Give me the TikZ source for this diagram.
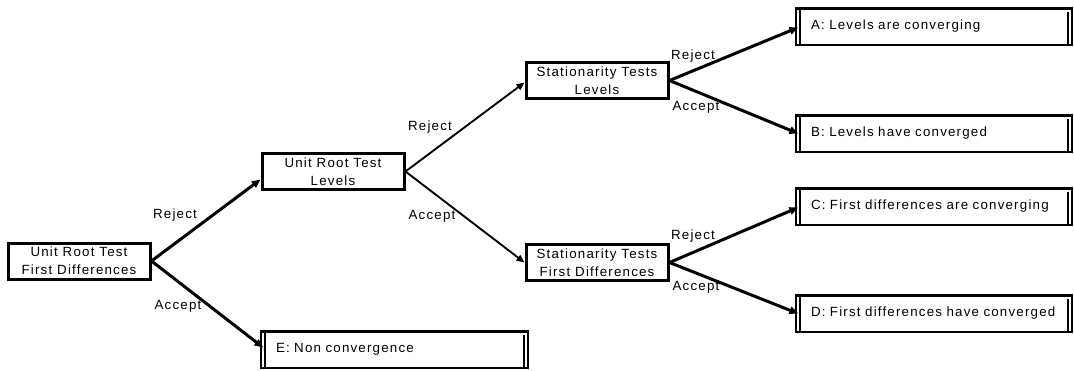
\documentclass[tikz,border=0pt]{standalone}
\usepackage{fontspec}
\setmainfont{Liberation Sans}[LetterSpace=9]
\usetikzlibrary{arrows.meta,calc}
\begin{document}
\begin{tikzpicture}[x=0.75pt,y=-0.75pt,
  every node/.style={font=\fontsize{10}{13.3}\selectfont},
  test/.style={draw,line width=2.25pt,minimum width=106.5pt,minimum height=27pt,align=center,inner sep=0pt},
  result/.style={draw,line width=1.3pt,minimum height=27.75pt,inner xsep=4pt,inner ysep=0pt,align=left,
    execute at begin node={\hspace*{7.25pt}},
    path picture={
      \draw[line width=1.6pt] ([xshift=3pt]path picture bounding box.north west) -- ([xshift=3pt]path picture bounding box.south west);
      \draw[line width=1.6pt] ([xshift=-3pt,yshift=-3pt]path picture bounding box.north east) -- ([xshift=-3pt]path picture bounding box.south east);
      \draw[line width=2.6pt] (path picture bounding box.north west) -- (path picture bounding box.north east);
    }},
  lab/.style={inner sep=0pt},
  thickarrow/.style={line width=2.25pt,-{Triangle[length=6.5pt,width=5.5pt]}},
  thinarrow/.style={line width=1.4pt,-{Triangle[length=6pt,width=5pt]}}]
\useasboundingbox (0,0) rectangle (1074,371);

\node[test] (U1) at (79,261) {Unit Root Test\\First Differences};
\node[test] (U2) at (333,171.5) {Unit Root Test\\Levels};
\node[test] (S1) at (597,80.5) {Stationarity Tests\\Levels};
\node[test] (S2) at (597,262.5) {Stationarity Tests\\First Differences};

\node[result,text width=199pt] (A) at (934,26.5) {A: Levels are converging};
\node[result,text width=199pt] (B) at (934,133.5) {B: Levels have converged};
\node[result,text width=199pt] (C) at (934,206.5) {C: First differences are converging};
\node[result,text width=199pt] (D) at (934,313.5) {D: First differences have converged};
\node[result,text width=192.25pt] (E) at (394.5,349.5) {E: Non convergence};

\draw[thickarrow] (U1.east) -- ($(U2.west)+(0,8)$);
\draw[thickarrow] (U1.east) -- ($(E.west)+(3,-2)$);
\draw[thinarrow] (U2.east) -- ($(S1.west)+(0,2)$);
\draw[thinarrow] (U2.east) -- (S2.west);
\draw[thickarrow] (S1.east) -- ($(A.west)+(3,1)$);
\draw[thickarrow] (S1.east) -- ($(B.west)+(3,0)$);
\draw[thickarrow] (S2.east) -- ($(C.west)+(3,1)$);
\draw[thickarrow] (S2.east) -- ($(D.west)+(3,0)$);

\node[lab] (r1) at (175,215) {Reject};
\node[lab] (a1) at (178,306) {Accept};
\node[lab] (r2) at (430,127) {Reject};
\node[lab] (a2) at (432,216) {Accept};
\node[lab] (r3) at (693,56) {Reject};
\node[lab] (a3) at (696,107) {Accept};
\node[lab] (r4) at (693,236) {Reject};
\node[lab] (a4) at (696,287) {Accept};
\end{tikzpicture}
\end{document}
